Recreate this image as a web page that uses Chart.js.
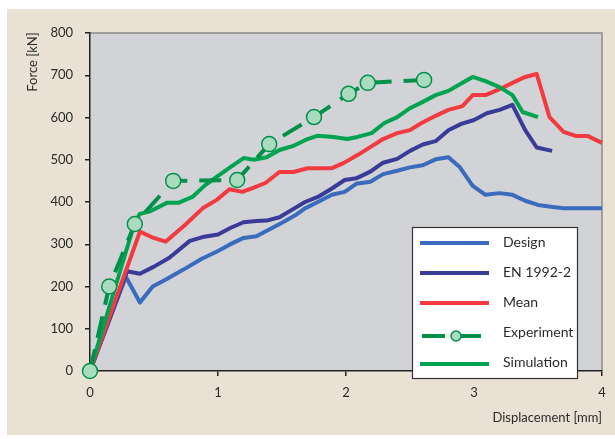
<!DOCTYPE html>
<html><head><meta charset="utf-8">
<script src="https://cdn.jsdelivr.net/npm/chart.js@4.4.1/dist/chart.umd.min.js"></script>
<style>html,body{margin:0;padding:0;background:#fff;}#wrap{width:615px;height:439px;position:relative;}</style>
</head><body><div id="wrap"><canvas id="c" width="615" height="439"></canvas></div>
<script>
// ---- data ----
const designX = [0, 0.28, 0.39, 0.49, 0.60, 0.73, 0.87, 1.0, 1.09, 1.2, 1.3, 1.4, 1.5, 1.6, 1.68, 1.78, 1.89, 1.99, 2.08, 2.19, 2.29, 2.4, 2.5, 2.6, 2.7, 2.8, 2.89, 2.99, 3.09, 3.2, 3.3, 3.4, 3.5, 3.6, 3.7, 3.8, 3.9, 4.0];
const designY = [0, 223, 162, 200, 218, 240, 265, 284, 299, 315, 319, 335, 351, 368, 385, 400, 417, 424, 443, 448, 466, 474, 482, 487, 501, 506, 482, 438, 417, 421, 417, 403, 393, 389, 385, 385, 385, 385];
const enX = [0, 0.29, 0.39, 0.5, 0.62, 0.78, 0.88, 1.0, 1.1, 1.2, 1.3, 1.38, 1.48, 1.58, 1.68, 1.78, 1.89, 1.99, 2.08, 2.19, 2.29, 2.4, 2.5, 2.6, 2.7, 2.8, 2.9, 3.0, 3.1, 3.2, 3.3, 3.4, 3.49, 3.61];
const enY = [0, 236, 230, 247, 268, 308, 317, 323, 339, 352, 355, 356, 364, 382, 400, 412, 432, 452, 456, 472, 493, 502, 521, 536, 544, 570, 585, 594, 610, 618, 630, 570, 529, 521];
const meanX = [0, 0.39, 0.48, 0.59, 0.74, 0.88, 0.99, 1.09, 1.19, 1.28, 1.37, 1.48, 1.59, 1.7, 1.8, 1.89, 1.98, 2.09, 2.19, 2.29, 2.4, 2.5, 2.59, 2.7, 2.8, 2.91, 2.99, 3.09, 3.2, 3.3, 3.4, 3.49, 3.59, 3.7, 3.8, 3.89, 4.0];
const meanY = [0, 330, 317, 306, 345, 385, 405, 430, 424, 434, 445, 471, 471, 480, 480, 480, 492, 511, 530, 549, 563, 570, 587, 604, 618, 627, 653, 653, 667, 682, 696, 703, 601, 566, 556, 556, 540];
const expX = [0, 0.15, 0.35, 0.65, 1.15, 1.40, 1.75, 2.02, 2.17, 2.61];
const expY = [0, 200, 348, 450, 452, 537, 601, 656, 682, 689];
const simX = [0, 0.35, 0.39, 0.47, 0.60, 0.69, 0.80, 0.9, 1.0, 1.1, 1.2, 1.28, 1.38, 1.48, 1.59, 1.7, 1.78, 1.9, 2.01, 2.09, 2.2, 2.3, 2.4, 2.5, 2.6, 2.7, 2.8, 2.91, 2.99, 3.09, 3.2, 3.3, 3.38, 3.5];
const simY = [0, 352, 372, 378, 398, 398, 412, 440, 462, 483, 504, 500, 506, 523, 533, 549, 557, 554, 549, 554, 563, 587, 601, 622, 637, 653, 663, 682, 696, 686, 672, 653, 613, 601];
const seriesNames = ['Design', 'EN 1992-2', 'Mean', 'Experiment', 'Simulation'];
const xTickValues = [0, 1, 2, 3, 4];
const yTickValues = [0, 100, 200, 300, 400, 500, 600, 700, 800];
const xTitle = 'Displacement [mm]';
const yTitle = 'Force [kN]';

const pts = (xs, ys) => xs.map((x, i) => ({x: x, y: ys[i]}));
const FONT = 'Lato, "Open Sans", sans-serif';
const TXT = '#2b2b2b';

const datasets = [
  {label: seriesNames[3], data: pts(expX, expY), borderColor: '#00904a', borderWidth: 4, borderDash: [22, 12],
   pointRadius: 7.5, pointBackgroundColor: '#a9dcbf', pointBorderColor: '#00904a', pointBorderWidth: 1.5, order: 0, clip: false},
  {label: seriesNames[4], data: pts(simX, simY), borderColor: '#00a450', borderWidth: 4, pointRadius: 0, order: 1, clip: false},
  {label: seriesNames[2], data: pts(meanX, meanY), borderColor: '#f23a40', borderWidth: 4, pointRadius: 0, order: 2, clip: false},
  {label: seriesNames[1], data: pts(enX, enY), borderColor: '#3a3b98', borderWidth: 4, pointRadius: 0, order: 3, clip: false},
  {label: seriesNames[0], data: pts(designX, designY), borderColor: '#3b6bbd', borderWidth: 4, pointRadius: 0, order: 4, clip: false}
];
datasets.forEach(d => { d.fill = false; d.tension = 0; d.borderJoinStyle = 'round'; d.showLine = true; });

const bgPlugin = {
  id: 'bg',
  beforeDraw(chart) {
    const ctx = chart.ctx, a = chart.chartArea;
    ctx.save();
    ctx.fillStyle = '#ffffff';
    ctx.fillRect(0, 0, chart.width, chart.height);
    ctx.fillStyle = '#e8e1d4';
    ctx.fillRect(7, 9, chart.width - 7, 426);
    ctx.fillStyle = '#d1d3d6';
    ctx.fillRect(a.left, a.top, a.right - a.left, a.bottom - a.top);
    ctx.strokeStyle = '#8a8a8a';
    ctx.lineWidth = 1.5;
    ctx.beginPath();
    ctx.moveTo(a.left, a.top); ctx.lineTo(a.right, a.top); ctx.lineTo(a.right, a.bottom);
    ctx.stroke();
    ctx.restore();
  },
  afterDraw(chart) {
    const ctx = chart.ctx, a = chart.chartArea;
    ctx.save();
    // axis titles
    ctx.fillStyle = TXT;
    ctx.font = '13px ' + FONT;
    ctx.textAlign = 'right'; ctx.textBaseline = 'middle';
    ctx.fillText(xTitle, a.right, 418);
    ctx.translate(33, 62);
    ctx.rotate(-Math.PI / 2);
    ctx.textAlign = 'center';
    ctx.fillText(yTitle, 0, 0);
    ctx.restore();
    // legend
    ctx.save();
    const bx = 412, by = 227, bw = 165, bh = 151;
    ctx.fillStyle = '#ffffff';
    ctx.fillRect(bx, by, bw, bh);
    ctx.strokeStyle = '#333';
    ctx.lineWidth = 1.2;
    ctx.strokeRect(bx + 0.5, by + 0.5, bw, bh);
    const order = [4, 3, 2, 0, 1]; // dataset indices in legend order
    const lineYs = [243, 273, 303, 336, 364];
    const textYs = [242, 272, 302, 332, 362];
    order.forEach((di, i) => {
      const d = datasets[di];
      ctx.strokeStyle = d.borderColor;
      ctx.lineWidth = 4;
      ctx.setLineDash([]);
      ctx.lineCap = 'butt';
      if (d.label === seriesNames[3]) {
        ctx.beginPath(); ctx.moveTo(422, lineYs[i]); ctx.lineTo(445, lineYs[i]); ctx.stroke();
        ctx.beginPath(); ctx.moveTo(456, lineYs[i]); ctx.lineTo(481, lineYs[i]); ctx.stroke();
        ctx.beginPath(); ctx.arc(456, lineYs[i], 5, 0, Math.PI * 2);
        ctx.fillStyle = d.pointBackgroundColor; ctx.fill();
        ctx.lineWidth = 1.5; ctx.strokeStyle = d.pointBorderColor; ctx.stroke();
      } else {
        ctx.beginPath(); ctx.moveTo(420, lineYs[i]); ctx.lineTo(489, lineYs[i]); ctx.stroke();
      }
      ctx.fillStyle = TXT;
      ctx.font = '14px ' + FONT;
      ctx.textAlign = 'left'; ctx.textBaseline = 'middle';
      ctx.fillText(d.label, 503, textYs[i]);
    });
    ctx.restore();
  }
};

new Chart(document.getElementById('c'), {
  type: 'line',
  data: {datasets: datasets},
  plugins: [bgPlugin],
  options: {
    responsive: false,
    animation: false,
    devicePixelRatio: 1,
    layout: {padding: {left: 0, right: 13, top: 33, bottom: 0}},
    plugins: {legend: {display: false}, tooltip: {enabled: false}},
    scales: {
      x: {
        type: 'linear', min: 0, max: 4,
        afterFit: s => { s.height = 68; },
        afterBuildTicks: s => { s.ticks = xTickValues.map(v => ({value: v})); },
        ticks: {color: TXT, font: {family: FONT, size: 13}, padding: 9},
        grid: {drawOnChartArea: false, drawTicks: true, tickLength: 5, color: '#222', lineWidth: 1.5},
        border: {display: true, color: '#222', width: 1.5}
      },
      y: {
        type: 'linear', min: 0, max: 800,
        afterFit: s => { s.width = 90; },
        afterBuildTicks: s => { s.ticks = yTickValues.map(v => ({value: v})); },
        ticks: {color: TXT, font: {family: FONT, size: 13}, padding: 12},
        grid: {drawOnChartArea: false, drawTicks: true, tickLength: 5, color: '#222', lineWidth: 1.5},
        border: {display: true, color: '#222', width: 1.5}
      }
    }
  }
});
</script>
</body></html>
